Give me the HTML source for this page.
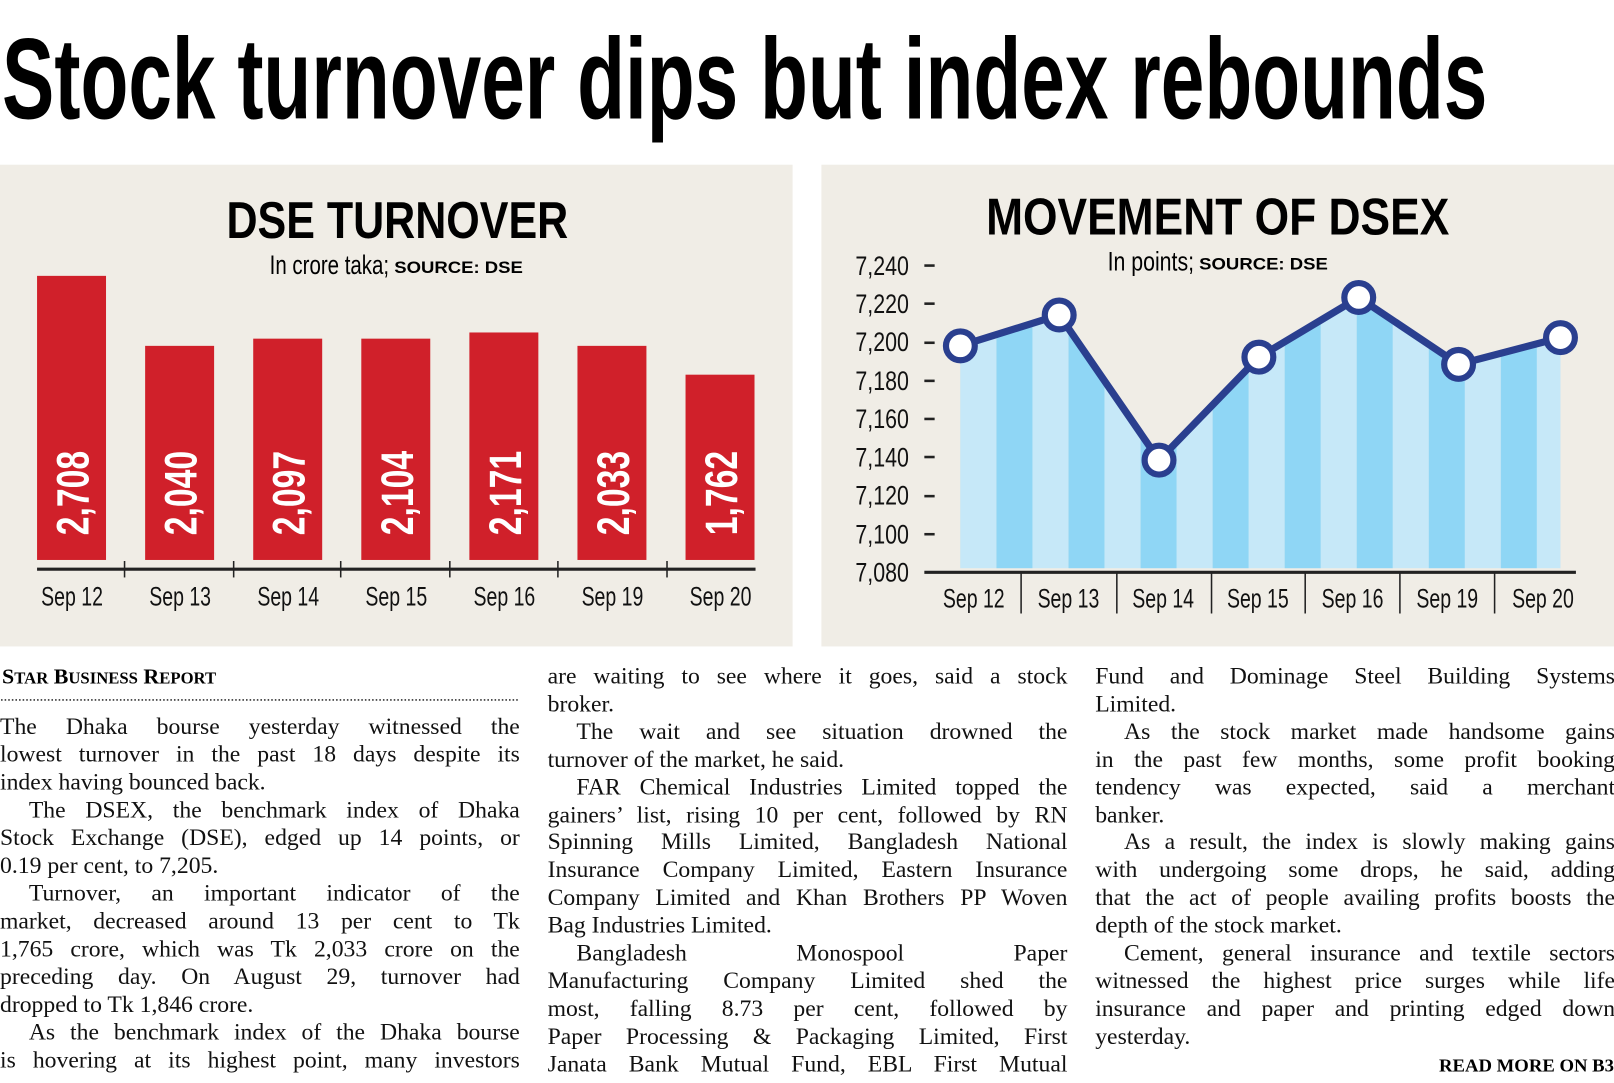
<!DOCTYPE html>
<html><head><meta charset="utf-8">
<style>
html,body{margin:0;padding:0;background:#fff;}
body{width:1614px;height:1083px;position:relative;overflow:hidden;}
#w{position:absolute;left:0;top:0;width:1568px;height:1052px;transform:scale(1.02934);transform-origin:0 0;}
svg{position:absolute;left:0;top:0;}
.col{position:absolute;width:505px;font-family:"Liberation Serif",serif;font-size:23px;line-height:26.9px;color:#111;}
.col div{white-space:nowrap;text-align:left;}
.col div.j{text-align:justify;text-align-last:justify;white-space:normal;}
.in{text-indent:28px;}
</style></head><body>
<div id="w">
<svg width="1568" height="1052" viewBox="0 0 1568 1052" xmlns="http://www.w3.org/2000/svg" font-family="Liberation Sans, sans-serif">
<text x="2" y="115" font-size="112" font-weight="bold" textLength="1443" lengthAdjust="spacingAndGlyphs" fill="#000">Stock turnover dips but index rebounds</text>
<rect x="0" y="160" width="770" height="468" fill="#f0ede6"/>
<rect x="798" y="160" width="770" height="468" fill="#f0ede6"/>
<!-- left chart -->
<text x="220" y="231" font-size="50" font-weight="bold" textLength="332" lengthAdjust="spacingAndGlyphs">DSE TURNOVER</text>
<text x="262" y="266" font-size="26" textLength="116" lengthAdjust="spacingAndGlyphs">In crore taka;</text>
<text x="383" y="265" font-size="16" font-weight="bold" textLength="125" lengthAdjust="spacingAndGlyphs">SOURCE: DSE</text>
<g fill="#d0202a">
<rect x="36" y="268" width="67" height="276"/>
<rect x="141" y="336" width="67" height="208"/>
<rect x="246" y="329" width="67" height="215"/>
<rect x="351" y="329" width="67" height="215"/>
<rect x="456" y="323" width="67" height="221"/>
<rect x="561" y="336" width="67" height="208"/>
<rect x="666" y="364" width="67" height="180"/>
</g>
<g fill="#fff" font-size="44" font-weight="bold">
<text transform="translate(86,520) rotate(-90)" textLength="82" lengthAdjust="spacingAndGlyphs">2,708</text>
<text transform="translate(191,520) rotate(-90)" textLength="82" lengthAdjust="spacingAndGlyphs">2,040</text>
<text transform="translate(296,520) rotate(-90)" textLength="82" lengthAdjust="spacingAndGlyphs">2,097</text>
<text transform="translate(401,520) rotate(-90)" textLength="82" lengthAdjust="spacingAndGlyphs">2,104</text>
<text transform="translate(506,520) rotate(-90)" textLength="82" lengthAdjust="spacingAndGlyphs">2,171</text>
<text transform="translate(611,520) rotate(-90)" textLength="82" lengthAdjust="spacingAndGlyphs">2,033</text>
<text transform="translate(716,520) rotate(-90)" textLength="82" lengthAdjust="spacingAndGlyphs">1,762</text>
</g>
<g stroke="#222" stroke-width="3">
<line x1="36" y1="553" x2="734" y2="553"/>
<line x1="121" y1="545" x2="121" y2="561" stroke-width="1.5"/>
<line x1="227" y1="545" x2="227" y2="561" stroke-width="1.5"/>
<line x1="331" y1="545" x2="331" y2="561" stroke-width="1.5"/>
<line x1="437" y1="545" x2="437" y2="561" stroke-width="1.5"/>
<line x1="542" y1="545" x2="542" y2="561" stroke-width="1.5"/>
<line x1="648" y1="545" x2="648" y2="561" stroke-width="1.5"/>
</g>
<g font-size="26" fill="#111">
<text x="40" y="588" textLength="60" lengthAdjust="spacingAndGlyphs">Sep 12</text>
<text x="145" y="588" textLength="60" lengthAdjust="spacingAndGlyphs">Sep 13</text>
<text x="250" y="588" textLength="60" lengthAdjust="spacingAndGlyphs">Sep 14</text>
<text x="355" y="588" textLength="60" lengthAdjust="spacingAndGlyphs">Sep 15</text>
<text x="460" y="588" textLength="60" lengthAdjust="spacingAndGlyphs">Sep 16</text>
<text x="565" y="588" textLength="60" lengthAdjust="spacingAndGlyphs">Sep 19</text>
<text x="670" y="588" textLength="60" lengthAdjust="spacingAndGlyphs">Sep 20</text>
</g>
<!-- right chart -->
<text x="958" y="228" font-size="50" font-weight="bold" textLength="450" lengthAdjust="spacingAndGlyphs">MOVEMENT OF DSEX</text>
<text x="1076" y="263" font-size="26" textLength="84" lengthAdjust="spacingAndGlyphs">In points;</text>
<text x="1165" y="262" font-size="16" font-weight="bold" textLength="125" lengthAdjust="spacingAndGlyphs">SOURCE: DSE</text>
<defs>
<pattern id="st" x="933" y="0" width="70" height="10" patternUnits="userSpaceOnUse">
<rect x="0" y="0" width="35" height="10" fill="#c6e8f8"/>
<rect x="35" y="0" width="35" height="10" fill="#8fd6f5"/>
</pattern>
</defs>
<polygon points="933,336 1029,306 1126,447 1223,347 1320,289 1417,354 1516,328 1516,552 933,552" fill="url(#st)"/>
<g font-size="26" fill="#111" text-anchor="end">
<text x="883" y="267" textLength="52" lengthAdjust="spacingAndGlyphs">7,240</text><text x="883" y="304" textLength="52" lengthAdjust="spacingAndGlyphs">7,220</text><text x="883" y="341" textLength="52" lengthAdjust="spacingAndGlyphs">7,200</text>
<text x="883" y="379" textLength="52" lengthAdjust="spacingAndGlyphs">7,180</text><text x="883" y="416" textLength="52" lengthAdjust="spacingAndGlyphs">7,160</text><text x="883" y="453" textLength="52" lengthAdjust="spacingAndGlyphs">7,140</text>
<text x="883" y="490" textLength="52" lengthAdjust="spacingAndGlyphs">7,120</text><text x="883" y="528" textLength="52" lengthAdjust="spacingAndGlyphs">7,100</text><text x="883" y="565" textLength="52" lengthAdjust="spacingAndGlyphs">7,080</text>
</g>
<g stroke="#222" stroke-width="2.5">
<line x1="898" y1="258" x2="908" y2="258"/><line x1="898" y1="295" x2="908" y2="295"/>
<line x1="898" y1="333" x2="908" y2="333"/><line x1="898" y1="370" x2="908" y2="370"/>
<line x1="898" y1="407" x2="908" y2="407"/><line x1="898" y1="444" x2="908" y2="444"/>
<line x1="898" y1="482" x2="908" y2="482"/><line x1="898" y1="519" x2="908" y2="519"/>
<line x1="898" y1="556" x2="1531" y2="556" stroke-width="3"/>
</g>
<g stroke="#222" stroke-width="1.5">
<line x1="992" y1="557" x2="992" y2="596"/><line x1="1085" y1="557" x2="1085" y2="596"/>
<line x1="1177" y1="557" x2="1177" y2="596"/><line x1="1268" y1="557" x2="1268" y2="596"/>
<line x1="1360" y1="557" x2="1360" y2="596"/><line x1="1452" y1="557" x2="1452" y2="596"/>
</g>
<g font-size="26" fill="#111">
<text x="916" y="590" textLength="60" lengthAdjust="spacingAndGlyphs">Sep 12</text>
<text x="1008" y="590" textLength="60" lengthAdjust="spacingAndGlyphs">Sep 13</text>
<text x="1100" y="590" textLength="60" lengthAdjust="spacingAndGlyphs">Sep 14</text>
<text x="1192" y="590" textLength="60" lengthAdjust="spacingAndGlyphs">Sep 15</text>
<text x="1284" y="590" textLength="60" lengthAdjust="spacingAndGlyphs">Sep 16</text>
<text x="1376" y="590" textLength="60" lengthAdjust="spacingAndGlyphs">Sep 19</text>
<text x="1469" y="590" textLength="60" lengthAdjust="spacingAndGlyphs">Sep 20</text>
</g>
<polyline points="933,336 1029,306 1126,447 1223,347 1320,289 1417,354 1516,328" fill="none" stroke="#2a3f8f" stroke-width="7" stroke-linejoin="round"/>
<g fill="#fff" stroke="#2a3f8f" stroke-width="6">
<circle cx="933" cy="336" r="14"/><circle cx="1029" cy="306" r="14"/><circle cx="1126" cy="447" r="14"/>
<circle cx="1223" cy="347" r="14"/><circle cx="1320" cy="289" r="14"/><circle cx="1417" cy="354" r="14"/>
<circle cx="1516" cy="328" r="14"/>
</g>
<text x="2" y="664" font-family="Liberation Serif, serif" font-size="21" font-weight="bold" textLength="208" lengthAdjust="spacingAndGlyphs">S<tspan font-size="16">TAR</tspan> B<tspan font-size="16">USINESS</tspan> R<tspan font-size="16">EPORT</tspan></text>
<line x1="1" y1="680" x2="505" y2="680" stroke="#333" stroke-width="1.5" stroke-dasharray="1.5,2"/>
<text x="1568" y="1041" text-anchor="end" font-family="Liberation Serif, serif" font-size="17" font-weight="bold" textLength="170" lengthAdjust="spacingAndGlyphs">READ MORE ON B3</text>
</svg>
<div class="col" style="left:0;top:692px;line-height:27px;">
<div class="j">The Dhaka bourse yesterday witnessed the</div>
<div class="j">lowest turnover in the past 18 days despite its</div>
<div>index having bounced back.</div>
<div class="j in">The DSEX, the benchmark index of Dhaka</div>
<div class="j">Stock Exchange (DSE), edged up 14 points, or</div>
<div>0.19 per cent, to 7,205.</div>
<div class="j in">Turnover, an important indicator of the</div>
<div class="j">market, decreased around 13 per cent to Tk</div>
<div class="j">1,765 crore, which was Tk 2,033 crore on the</div>
<div class="j">preceding day. On August 29, turnover had</div>
<div>dropped to Tk 1,846 crore.</div>
<div class="j in">As the benchmark index of the Dhaka bourse</div>
<div class="j">is hovering at its highest point, many investors</div>
</div>
<div class="col" style="left:532px;top:644px;">
<div class="j">are waiting to see where it goes, said a stock</div>
<div>broker.</div>
<div class="j in">The wait and see situation drowned the</div>
<div>turnover of the market, he said.</div>
<div class="j in">FAR Chemical Industries Limited topped the</div>
<div class="j">gainers’ list, rising 10 per cent, followed by RN</div>
<div class="j">Spinning Mills Limited, Bangladesh National</div>
<div class="j">Insurance Company Limited, Eastern Insurance</div>
<div class="j">Company Limited and Khan Brothers PP Woven</div>
<div>Bag Industries Limited.</div>
<div class="j in">Bangladesh Monospool Paper</div>
<div class="j">Manufacturing Company Limited shed the</div>
<div class="j">most, falling 8.73 per cent, followed by</div>
<div class="j">Paper Processing &amp; Packaging Limited, First</div>
<div class="j">Janata Bank Mutual Fund, EBL First Mutual</div>
</div>
<div class="col" style="left:1064px;top:644px;">
<div class="j">Fund and Dominage Steel Building Systems</div>
<div>Limited.</div>
<div class="j in">As the stock market made handsome gains</div>
<div class="j">in the past few months, some profit booking</div>
<div class="j">tendency was expected, said a merchant</div>
<div>banker.</div>
<div class="j in">As a result, the index is slowly making gains</div>
<div class="j">with undergoing some drops, he said, adding</div>
<div class="j">that the act of people availing profits boosts the</div>
<div>depth of the stock market.</div>
<div class="j in">Cement, general insurance and textile sectors</div>
<div class="j">witnessed the highest price surges while life</div>
<div class="j">insurance and paper and printing edged down</div>
<div>yesterday.</div>
</div>
</div>
</body></html>
